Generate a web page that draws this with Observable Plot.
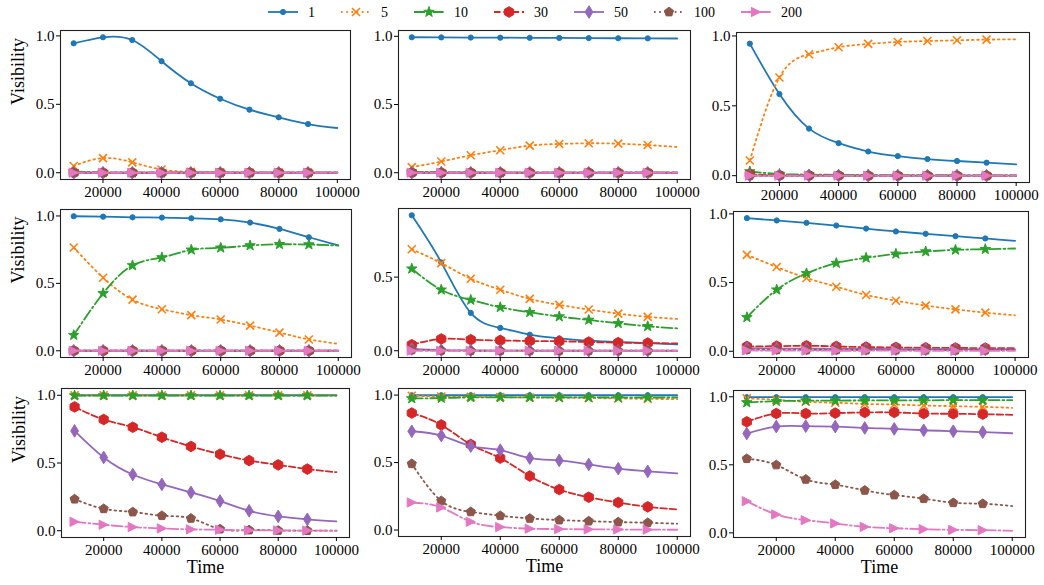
<!DOCTYPE html>
<html><head><meta charset="utf-8">
<script src="https://cdn.jsdelivr.net/npm/d3@7"></script>
<script src="https://cdn.jsdelivr.net/npm/@observablehq/plot@0.6"></script>
<style>
html,body{margin:0;padding:0;background:#fff;}
#root{position:relative;width:1044px;height:585px;overflow:hidden;font-family:"Liberation Serif","Times New Roman",serif;}
#root svg{position:absolute;overflow:visible;}
</style></head><body><div id="root"></div>
<script>
// ---------- data ----------
const times = [10000, 20000, 30000, 40000, 50000, 60000, 70000, 80000, 90000, 100000];
const seriesNames = ["1", "5", "10", "30", "50", "100", "200"];
const xTicks = [20000, 40000, 60000, 80000, 100000];
const yTicks = [0, 0.5, 1];
const Z = [0, 0, 0, 0, 0, 0, 0, 0, 0, 0];

const p11 = [
  [0.946, 0.99, 0.97, 0.815, 0.654, 0.541, 0.461, 0.405, 0.356, 0.327],
  [0.049, 0.107, 0.076, 0.024, 0.006, 0.003, 0.002, 0.001, 0.001, 0.001],
  [0.01, 0.002, 0, 0, 0, 0, 0, 0, 0, 0],
  Z, Z, Z, Z
];
const p12 = [
  [0.993, 0.992, 0.991, 0.99, 0.989, 0.988, 0.987, 0.986, 0.985, 0.984],
  [0.041, 0.082, 0.128, 0.165, 0.199, 0.211, 0.216, 0.213, 0.203, 0.189],
  [0.008, 0.004, 0.002, 0.001, 0, 0, 0, 0, 0, 0],
  Z, Z, Z, Z
];
const p13 = [
  [0.945, 0.584, 0.337, 0.233, 0.173, 0.14, 0.119, 0.105, 0.093, 0.081],
  [0.109, 0.703, 0.869, 0.919, 0.943, 0.957, 0.964, 0.969, 0.974, 0.976],
  [0.03, 0.012, 0.008, 0.006, 0.005, 0.004, 0.003, 0.003, 0.002, 0.002],
  [0.01, 0.003, 0.002, 0.001, 0, 0, 0, 0, 0, 0],
  Z, Z, Z
];
const p21 = [
  [0.998, 0.995, 0.99, 0.988, 0.983, 0.975, 0.951, 0.904, 0.842, 0.781],
  [0.766, 0.542, 0.379, 0.308, 0.264, 0.232, 0.187, 0.135, 0.084, 0.052],
  [0.116, 0.426, 0.633, 0.692, 0.749, 0.764, 0.781, 0.79, 0.788, 0.781],
  Z, Z, Z, Z
];
const p22 = [
  [0.92, 0.6, 0.257, 0.155, 0.109, 0.084, 0.068, 0.059, 0.052, 0.043],
  [0.689, 0.595, 0.489, 0.414, 0.352, 0.311, 0.28, 0.252, 0.23, 0.216],
  [0.557, 0.414, 0.345, 0.295, 0.261, 0.232, 0.209, 0.186, 0.166, 0.152],
  [0.041, 0.08, 0.075, 0.07, 0.066, 0.064, 0.059, 0.055, 0.052, 0.05],
  [0.012, 0.004, 0.002, 0.001, 0, 0, 0, 0, 0, 0],
  [0.005, 0.002, 0, 0, 0, 0, 0, 0, 0, 0],
  Z
];
const p23 = [
  [0.969, 0.952, 0.935, 0.915, 0.893, 0.872, 0.855, 0.838, 0.821, 0.804],
  [0.702, 0.613, 0.533, 0.47, 0.41, 0.368, 0.332, 0.305, 0.281, 0.262],
  [0.247, 0.448, 0.567, 0.642, 0.68, 0.709, 0.726, 0.738, 0.743, 0.748],
  [0.035, 0.037, 0.04, 0.035, 0.03, 0.028, 0.025, 0.024, 0.023, 0.022],
  [0.022, 0.02, 0.019, 0.018, 0.017, 0.016, 0.015, 0.015, 0.014, 0.014],
  [0.012, 0.011, 0.01, 0.01, 0.009, 0.009, 0.008, 0.008, 0.008, 0.008],
  [0.006, 0.005, 0.005, 0.004, 0.004, 0.004, 0.003, 0.003, 0.003, 0.003]
];
const p31 = [
  [1, 1, 1, 1, 1, 1, 1, 1, 1, 1],
  [0.999, 0.999, 0.999, 0.999, 0.999, 0.999, 0.999, 0.999, 0.999, 0.999],
  [0.998, 0.998, 0.998, 0.998, 0.998, 0.998, 0.998, 0.998, 0.998, 0.998],
  [0.914, 0.821, 0.764, 0.69, 0.622, 0.565, 0.518, 0.486, 0.455, 0.432],
  [0.737, 0.541, 0.415, 0.342, 0.283, 0.219, 0.147, 0.106, 0.084, 0.069],
  [0.233, 0.162, 0.138, 0.111, 0.091, 0.012, 0.005, 0.002, 0.001, 0],
  [0.066, 0.044, 0.027, 0.017, 0.01, 0.007, 0.003, 0.002, 0.001, 0]
];
const p32 = [
  [0.999, 0.999, 0.999, 0.999, 0.999, 0.999, 0.999, 0.999, 0.999, 0.999],
  [0.995, 0.99, 0.987, 0.985, 0.982, 0.98, 0.978, 0.975, 0.972, 0.97],
  [0.975, 0.978, 0.983, 0.983, 0.983, 0.983, 0.983, 0.982, 0.982, 0.982],
  [0.867, 0.779, 0.634, 0.533, 0.4, 0.3, 0.243, 0.204, 0.172, 0.152],
  [0.732, 0.7, 0.622, 0.592, 0.533, 0.516, 0.486, 0.455, 0.435, 0.42],
  [0.491, 0.216, 0.135, 0.106, 0.086, 0.074, 0.066, 0.059, 0.054, 0.047],
  [0.204, 0.167, 0.061, 0.022, 0.01, 0.007, 0.005, 0.004, 0.003, 0.002]
];
const p33 = [
  [0.997, 0.997, 0.997, 0.997, 0.997, 0.997, 0.997, 0.997, 0.997, 0.997],
  [0.988, 0.978, 0.963, 0.956, 0.948, 0.943, 0.936, 0.931, 0.926, 0.919],
  [0.958, 0.968, 0.971, 0.972, 0.973, 0.974, 0.974, 0.975, 0.975, 0.975],
  [0.816, 0.877, 0.877, 0.88, 0.885, 0.885, 0.877, 0.875, 0.872, 0.867],
  [0.73, 0.781, 0.784, 0.781, 0.771, 0.764, 0.754, 0.747, 0.74, 0.732],
  [0.545, 0.499, 0.393, 0.354, 0.312, 0.278, 0.251, 0.221, 0.214, 0.197],
  [0.233, 0.135, 0.093, 0.069, 0.044, 0.034, 0.027, 0.022, 0.02, 0.015]
];
const panels = [p11, p12, p13, p21, p22, p23, p31, p32, p33];

// ---------- styles ----------
function poly(n) {
  return { draw(ctx, size) {
    const R = Math.sqrt(size / Math.PI);
    for (let k = 0; k < n; k++) {
      const a = 2 * Math.PI * k / n, x = R * Math.sin(a), y = -R * Math.cos(a);
      k ? ctx.lineTo(x, y) : ctx.moveTo(x, y);
    }
    ctx.closePath();
  }};
}
const symDot = { draw(ctx, size) { const R = Math.sqrt(size / Math.PI); ctx.moveTo(R, 0); ctx.arc(0, 0, R, 0, 2 * Math.PI); ctx.closePath(); } };
const symX = { draw(ctx, size) { const R = Math.sqrt(size / Math.PI); ctx.moveTo(-R, -R); ctx.lineTo(R, R); ctx.moveTo(-R, R); ctx.lineTo(R, -R); } };
const symStar = { draw(ctx, size) {
  const R = Math.sqrt(size / Math.PI), r = R * 0.40;
  for (let k = 0; k < 10; k++) {
    const a = Math.PI * k / 5, rr = k % 2 ? r : R, x = rr * Math.sin(a), y = -rr * Math.cos(a);
    k ? ctx.lineTo(x, y) : ctx.moveTo(x, y);
  }
  ctx.closePath();
} };
const symThinDiamond = { draw(ctx, size) { const R = Math.sqrt(size / Math.PI); ctx.moveTo(0, -R); ctx.lineTo(0.62 * R, 0); ctx.lineTo(0, R); ctx.lineTo(-0.62 * R, 0); ctx.closePath(); } };
const symTriRight = { draw(ctx, size) { const R = Math.sqrt(size / Math.PI); ctx.moveTo(R, 0); ctx.lineTo(-R, -R); ctx.lineTo(-R, R); ctx.closePath(); } };

const styles = [
  { color: "#1f77b4", dash: null, sym: symDot, r: 2.6, filled: true },
  { color: "#ff7f0e", dash: "1.6 3.6", sym: symX, r: 4, filled: false },
  { color: "#2ca02c", dash: "11 2.9 1.8 2.9", sym: symStar, r: 5.5, filled: true },
  { color: "#d62728", dash: "6.5 2.8", sym: poly(6), r: 5.3, filled: true },
  { color: "#9467bd", dash: null, sym: symThinDiamond, r: 6.3, filled: true },
  { color: "#8c564b", dash: "1.6 3.6", sym: poly(5), r: 4.8, filled: true },
  { color: "#e377c2", dash: "11 2.9 1.8 2.9", sym: symTriRight, r: 4.6, filled: true }
];

// frame boxes [left, right, top, bottom]
const frames = [
  [60, 350, 30, 179], [398, 690, 30, 179], [736, 1029, 32, 182],
  [60, 351, 209, 357], [398, 690, 208, 357], [733, 1028, 211, 357],
  [61, 349, 388, 537], [398, 690, 388, 536], [733, 1025, 390, 537]
];

const root = document.getElementById("root");
const ML = 60, MR = 10, MT = 10, MB = 50;

panels.forEach((vals, pi) => {
  const [fl, fr, ft, fb] = frames[pi];
  const col = pi % 3, row = Math.floor(pi / 3);
  const all = vals.flat();
  const lo = d3.min(all), hi = d3.max(all), pad = (hi - lo) * 0.05;
  const yDom = [lo - pad, hi + pad];
  const marks = [];
  vals.forEach((arr, si) => {
    const st = styles[si];
    const d = times.map((t, j) => ({ t, v: arr[j] }));
    marks.push(Plot.line(d, { x: "t", y: "v", stroke: st.color, strokeWidth: 1.8, strokeDasharray: st.dash ?? undefined, curve: "natural" }));
    marks.push(Plot.dot(d.filter(p => p.t <= 90000), { x: "t", y: "v", symbol: st.sym, r: st.r, fill: st.filled ? st.color : "none", stroke: st.color, strokeWidth: st.filled ? 1 : 1.6 }));
  });
  marks.push(Plot.frame({ stroke: "#222", strokeWidth: 1.1 }));
  marks.push(Plot.axisX({ ticks: xTicks, tickFormat: d => String(d), tickSize: 4, tickPadding: 3, label: null, fontSize: 15 }));
  marks.push(Plot.axisY({ ticks: yTicks.filter(v => v >= yDom[0] && v <= yDom[1]), tickFormat: d3.format(".1f"), tickSize: 4, tickPadding: 2, label: null, fontSize: 15 }));
  if (col === 0) marks.push(Plot.text(["Visibility"], { text: d => d, frameAnchor: "left", dx: -42, rotate: -90, fontSize: 18, fill: "#000" }));
  if (row === 2) marks.push(Plot.text(["Time"], { text: d => d, frameAnchor: "bottom", dy: 35, fontSize: 18, fill: "#000" }));
  const svg = Plot.plot({
    width: ML + (fr - fl) + MR,
    height: MT + (fb - ft) + MB,
    marginLeft: ML, marginRight: MR, marginTop: MT, marginBottom: MB,
    x: { domain: [5500, 104500] },
    y: { domain: yDom },
    style: { fontFamily: "Liberation Serif", fontSize: "15px", color: "#000", background: "transparent", overflow: "visible" },
    marks
  });
  svg.style.left = (fl - ML) + "px";
  svg.style.top = (ft - MT) + "px";
  root.appendChild(svg);
});

// ---------- legend ----------
const lg = d3.select(root).append("svg").attr("width", 1044).attr("height", 26).style("left", "0px").style("top", "0px");
let x0 = 268;
const ly = 12;
seriesNames.forEach((name, si) => {
  const st = styles[si];
  const g = lg.append("g");
  g.append("line").attr("x1", x0).attr("x2", x0 + 30).attr("y1", ly).attr("y2", ly)
    .attr("stroke", st.color).attr("stroke-width", 1.8).attr("stroke-dasharray", st.dash);
  const p = d3.path();
  st.sym.draw(p, st.r * st.r * Math.PI);
  g.append("path").attr("d", p.toString()).attr("transform", `translate(${x0 + 15},${ly})`)
    .attr("fill", st.filled ? st.color : "none").attr("stroke", st.color).attr("stroke-width", st.filled ? 1 : 1.6);
  const t = g.append("text").attr("x", x0 + 40).attr("y", ly).attr("dy", "0.35em")
    .attr("font-family", "Liberation Serif").attr("font-size", 14).attr("fill", "#000").text(name);
  const w = t.node().getComputedTextLength();
  x0 = x0 + 40 + w + 26;
});
</script></body></html>
